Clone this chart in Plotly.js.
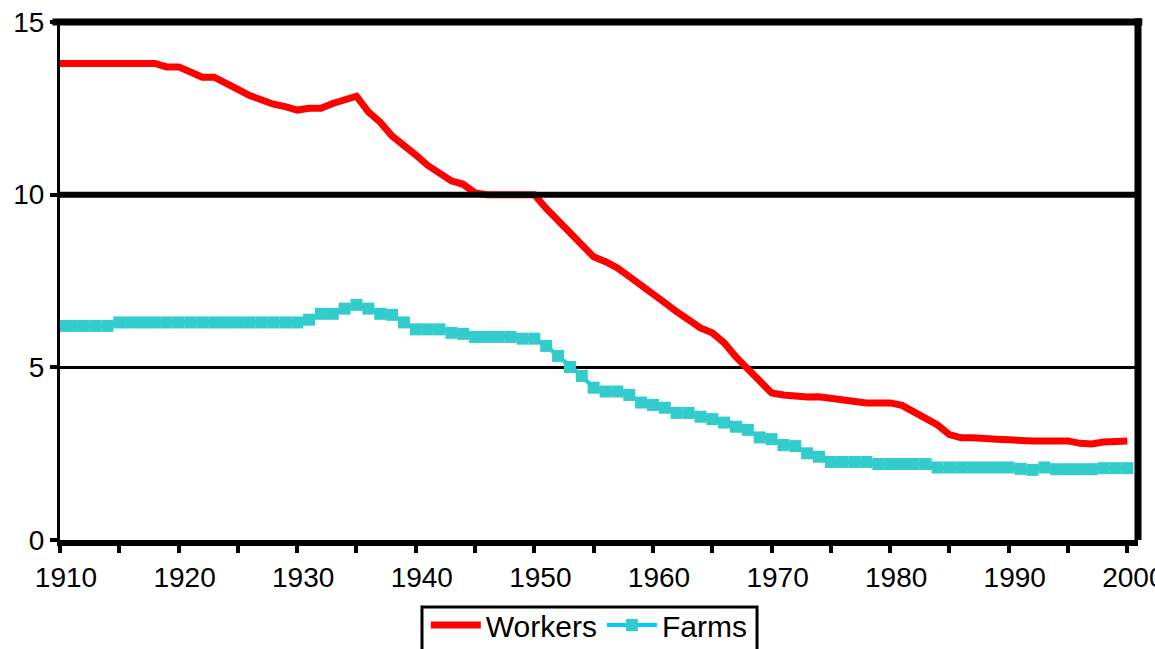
<!DOCTYPE html>
<html>
<head>
<meta charset="utf-8">
<script src="https://cdn.plot.ly/plotly-3.0.1.min.js"></script>
<style>html,body{margin:0;padding:0;background:#fff;}#chart{width:1155px;height:649px;}</style>
</head>
<body>
<div id="chart"></div>
<script>
var years = [1910,1911,1912,1913,1914,1915,1916,1917,1918,1919,
             1920,1921,1922,1923,1924,1925,1926,1927,1928,1929,
             1930,1931,1932,1933,1934,1935,1936,1937,1938,1939,
             1940,1941,1942,1943,1944,1945,1946,1947,1948,1949,
             1950,1951,1952,1953,1954,1955,1956,1957,1958,1959,
             1960,1961,1962,1963,1964,1965,1966,1967,1968,1969,
             1970,1971,1972,1973,1974,1975,1976,1977,1978,1979,
             1980,1981,1982,1983,1984,1985,1986,1987,1988,1989,
             1990,1991,1992,1993,1994,1995,1996,1997,1998,1999,2000];

var workers = [13.8,13.8,13.8,13.8,13.8,13.8,13.8,13.8,13.8,13.7,
               13.7,13.55,13.4,13.4,13.25,13.05,12.87,12.72,12.62,12.55,
               12.45,12.5,12.5,12.64,12.72,12.85,12.4,12.1,11.7,11.45,
               11.15,10.85,10.65,10.4,10.3,10.05,10.0,10.0,10.0,9.95,
               10.0,9.6,9.25,8.9,8.5,8.2,8.06,7.88,7.63,7.39,
               7.16,6.87,6.61,6.38,6.14,6.0,5.71,5.3,4.93,4.6,
               4.26,4.2,4.15,4.14,4.15,4.1,4.08,4.03,3.97,3.97,
               3.97,3.9,3.7,3.53,3.33,3.05,2.96,2.96,2.92,2.92,
               2.9,2.87,2.87,2.87,2.87,2.87,2.8,2.78,2.84,2.87,2.87];

var farms = [6.2,6.2,6.2,6.2,6.2,6.3,6.3,6.3,6.3,6.3,
             6.3,6.3,6.3,6.3,6.3,6.3,6.3,6.3,6.3,6.3,
             6.3,6.38,6.55,6.55,6.7,6.81,6.7,6.55,6.52,6.3,
             6.1,6.1,6.1,6.0,5.97,5.88,5.88,5.88,5.88,5.83,
             5.83,5.62,5.33,5.01,4.75,4.41,4.3,4.3,4.2,3.98,
             3.91,3.83,3.68,3.68,3.57,3.5,3.4,3.28,3.19,2.97,
             2.92,2.75,2.72,2.51,2.41,2.26,2.26,2.26,2.26,2.2,
             2.2,2.2,2.2,2.2,2.1,2.1,2.1,2.1,2.1,2.1,
             2.1,2.06,2.03,2.1,2.05,2.05,2.05,2.05,2.08,2.08,2.08];

var seriesNames = ['Workers', 'Farms'];
var xTickVals = [1910,1920,1930,1940,1950,1960,1970,1980,1990,2000];
var yTickVals = [0,5,10,15];

var traces = [
  {
    x: years, y: workers, name: seriesNames[0], type: 'scatter', mode: 'lines',
    line: {color: '#ff0000', width: 7}
  },
  {
    x: years, y: farms, name: seriesNames[1], type: 'scatter', mode: 'lines+markers',
    line: {color: '#00ccff', width: 4},
    marker: {symbol: 'square', size: 12, color: '#33cccc'}
  }
];

var font = {family: 'Liberation Sans, Arial, sans-serif', size: 28, color: '#000'};

var layout = {
  width: 1155, height: 649,
  margin: {l: 60, r: 17, t: 22, b: 109, autoexpand: false},
  paper_bgcolor: '#fff', plot_bgcolor: '#fff',
  font: font,
  showlegend: true,
  legend: {
    orientation: 'h', x: 0.491, xanchor: 'center', y: -0.1139, yanchor: 'top',
    borderwidth: 0, bgcolor: 'rgba(0,0,0,0)',
    font: {family: 'Liberation Sans, Arial, sans-serif', size: 30, color: '#000'},
    itemwidth: 50, traceorder: 'normal'
  },
  xaxis: {
    range: [1910, 2000.9], tickvals: xTickVals, ticktext: xTickVals.map(String),
    showgrid: false, zeroline: false, automargin: false,
    showline: true, linecolor: '#000', linewidth: 6,
    ticks: 'outside', ticklen: 7, tickwidth: 4, tickcolor: '#000',
    minor: {dtick: 5, tick0: 1910, ticks: 'outside', ticklen: 7, tickwidth: 4, tickcolor: '#000', showgrid: false},
    ticklabelshift: 6, ticklabeloverflow: 'allow',
    tickfont: font
  },
  yaxis: {
    range: [0, 15], tickvals: yTickVals, ticktext: yTickVals.map(String),
    showgrid: true, gridcolor: '#000', gridwidth: 3, zeroline: false, automargin: false,
    showline: true, linecolor: '#000', linewidth: 3,
    ticks: 'outside', ticklen: 7, tickwidth: 4, tickcolor: '#000',
    tickfont: font
  },
  shapes: [
    {type: 'line', xref: 'paper', yref: 'y', x0: 0, x1: 1, y0: 10, y1: 10, line: {color: '#000', width: 6}},
    {type: 'line', xref: 'paper', yref: 'paper', x0: -0.007, x1: 1.004, y0: 1, y1: 1, line: {color: '#000', width: 7}},
    {type: 'line', xref: 'paper', yref: 'paper', x0: 1, x1: 1, y0: 0, y1: 1.007, line: {color: '#000', width: 7}},
    {type: 'rect', xref: 'paper', yref: 'paper', x0: 0.3358, x1: 0.6466, y0: -0.1293, y1: -0.26,
     line: {color: '#000', width: 3}, fillcolor: 'rgba(0,0,0,0)', layer: 'above'}
  ]
};

Plotly.newPlot('chart', traces, layout, {displayModeBar: false, staticPlot: true});
</script>
</body>
</html>
